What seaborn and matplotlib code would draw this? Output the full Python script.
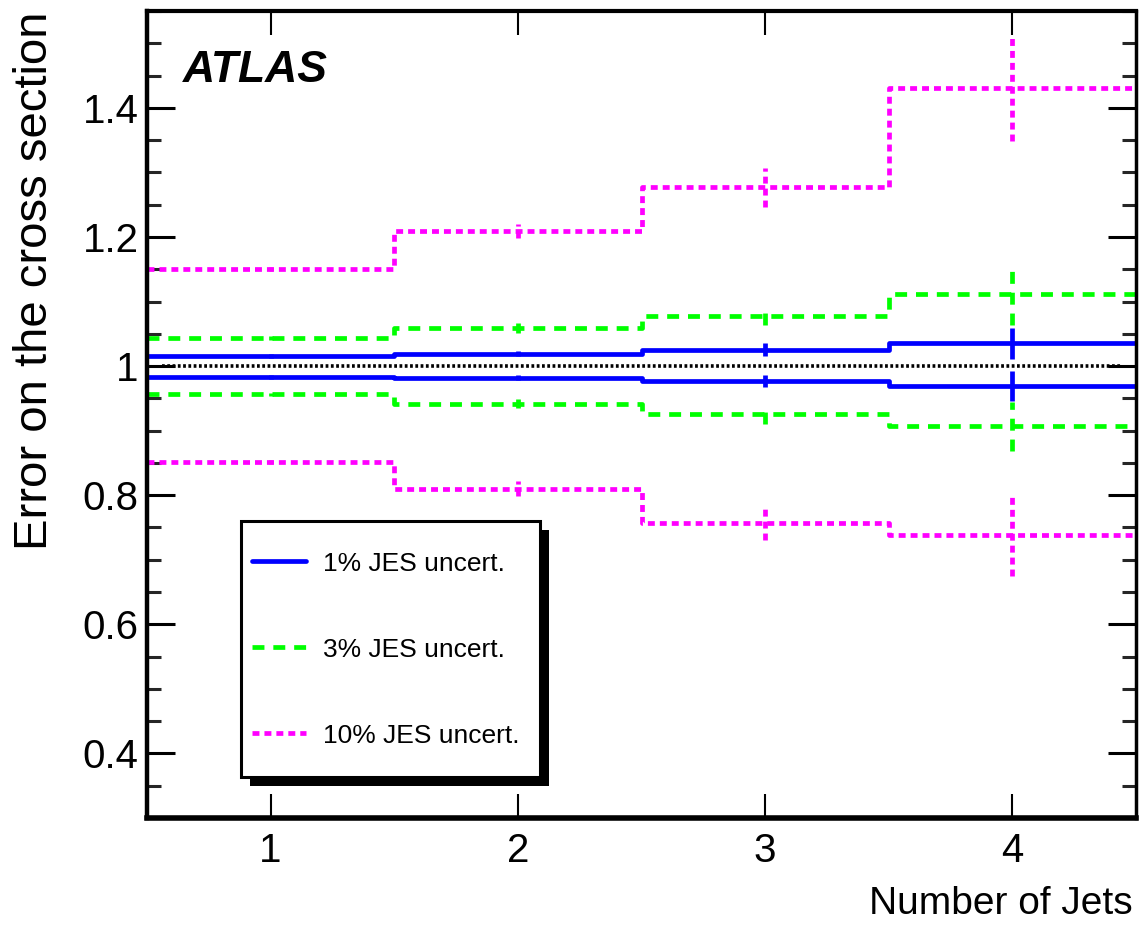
import numpy as np
import pandas as pd
import matplotlib
matplotlib.use("Agg")
import matplotlib.pyplot as plt
from matplotlib.lines import Line2D
from matplotlib.patches import Rectangle
from matplotlib.legend_handler import HandlerLine2D
from matplotlib.ticker import FixedLocator, MultipleLocator, FuncFormatter
import seaborn as sns

# ---- data: relative change of the cross section per jet-multiplicity bin ----
n_jets = [1, 2, 3, 4]
bin_edges = [0.5, 1.5, 2.5, 3.5, 4.5]

jes1_up = [1.015, 1.019, 1.025, 1.035]
jes1_down = [0.983, 0.982, 0.977, 0.969]
jes1_up_err = [0.003, 0.004, 0.010, 0.024]
jes1_down_err = [0.003, 0.004, 0.009, 0.023]

jes3_up = [1.044, 1.059, 1.078, 1.111]
jes3_down = [0.956, 0.942, 0.925, 0.907]
jes3_up_err = [0.003, 0.007, 0.015, 0.048]
jes3_down_err = [0.003, 0.007, 0.015, 0.038]

jes10_up = [1.151, 1.209, 1.277, 1.431]
jes10_down = [0.852, 0.810, 0.757, 0.738]
jes10_up_err = [0.003, 0.011, 0.030, 0.083]
jes10_down_err = [0.003, 0.012, 0.027, 0.063]

legend_labels = ["1% JES uncert.", "3% JES uncert.", "10% JES uncert."]
x_label = "Number of Jets"
y_label = "Error on the cross section"
y_ticks = [0.4, 0.6, 0.8, 1.0, 1.2, 1.4]

sns.set_theme(style="white")
plt.rcParams["lines.scale_dashes"] = False
FONT = ["Liberation Sans", "DejaVu Sans"]
plt.rcParams["font.family"] = FONT
plt.rcParams["text.color"] = "black"
plt.rcParams["axes.labelcolor"] = "black"

fig = plt.figure(figsize=(11.39, 9.25), dpi=100)
ax = fig.add_axes([147 / 1139, 1 - 818 / 925, 989 / 1139, 807 / 925])

styles = [
    dict(color="#0000ff", linewidth=3.4, dashes=None),
    dict(color="#00ff00", linewidth=3.4, dashes=(8.6, 6.4)),
    dict(color="#ff00ff", linewidth=3.4, dashes=(5.0, 3.6)),
]
series = [
    (jes1_up, jes1_down, jes1_up_err, jes1_down_err),
    (jes3_up, jes3_down, jes3_up_err, jes3_down_err),
    (jes10_up, jes10_down, jes10_up_err, jes10_down_err),
]

for (up, down, up_err, down_err), st in zip(series, styles):
    for vals, errs in ((up, up_err), (down, down_err)):
        df = pd.DataFrame({"njets": n_jets, "value": vals})
        kw = dict(color=st["color"], linewidth=st["linewidth"])
        if st["dashes"] is not None:
            kw["dashes"] = st["dashes"]
        # step outline of the per-bin values
        sns.histplot(data=df, x="njets", weights="value", bins=bin_edges,
                     element="step", fill=False, ax=ax, **kw)
        # vertical error bars at the bin centres
        v = np.asarray(vals)
        e = np.asarray(errs)
        ls = "solid" if st["dashes"] is None else (0, st["dashes"])
        ax.vlines(n_jets, v - e, v + e, colors=st["color"],
                  linewidth=st["linewidth"], linestyles=ls)

# reference line at unity
ax.plot([0.56, 4.44], [1.0, 1.0], color="black", linewidth=2.6,
        dashes=(2.0, 1.8), zorder=1)

ax.set_xlim(0.5, 4.5)
ax.set_ylim(0.3, 1.55)

# axes frame and ticks
for side, lw in (("left", 3.2), ("bottom", 4.0), ("top", 3.0), ("right", 2.5)):
    ax.spines[side].set_visible(True)
    ax.spines[side].set_color("black")
    ax.spines[side].set_linewidth(lw)

ax.xaxis.set_major_locator(FixedLocator(n_jets))
ax.yaxis.set_major_locator(FixedLocator(y_ticks))
ax.yaxis.set_minor_locator(MultipleLocator(0.05))
ax.yaxis.set_major_formatter(FuncFormatter(lambda v, p: f"{v:g}"))

ax.tick_params(axis="x", which="major", direction="in", length=17, width=1.5,
               top=True, bottom=True, labelsize=29, pad=10, colors="black")
ax.tick_params(axis="y", which="major", direction="in", length=20, width=2.2,
               left=True, right=True, labelsize=29, pad=6, colors="black")
ax.tick_params(axis="y", which="minor", direction="in", length=10, width=2.2,
               left=True, right=True)

ax.set_xlabel(x_label, fontsize=28, loc="right")
ax.xaxis.set_label_coords(0.997, -0.084)
ax.set_ylabel(y_label, fontsize=34, loc="top")
ax.yaxis.set_label_coords(-0.091, 1.0)

ax.text(0.036, 0.912, "ATLAS", transform=ax.transAxes, fontsize=32,
        fontweight="bold", fontstyle="italic", va="baseline", color="black")


class MidTextLineHandler(HandlerLine2D):
    """Line handle drawn at the vertical middle of the label text."""

    def create_artists(self, legend, orig_handle, xdescent, ydescent,
                       width, height, fontsize, trans):
        artists = super().create_artists(legend, orig_handle, xdescent, ydescent,
                                         width, height, fontsize, trans)
        for a in artists:
            y = np.asarray(a.get_ydata(), dtype=float)
            a.set_ydata(np.full_like(y, 0.36 * fontsize))
        return artists


handles = []
for st in styles:
    extra = {} if st["dashes"] is None else {"dashes": st["dashes"]}
    handles.append(Line2D([], [], color=st["color"], linewidth=st["linewidth"], **extra))

leg = ax.legend(handles, legend_labels, loc="upper left",
                bbox_to_anchor=(0.095, 0.368, 0.302, 0.0), mode="expand",
                borderaxespad=0, prop={"size": 19},
                handler_map={Line2D: MidTextLineHandler()},
                handlelength=2.05, handleheight=3.24, handletextpad=0.64,
                borderpad=0.417, labelspacing=0.91, frameon=True,
                fancybox=False, framealpha=1, facecolor="white",
                edgecolor="black")
leg.get_frame().set_linewidth(2.2)
for t in leg.get_texts():
    t.set_color("black")

# drop shadow behind the legend box
fig.canvas.draw()
bb = leg.get_window_extent()
inv = ax.transAxes.inverted()
(sx0, sy0) = inv.transform((bb.x0 + 9, bb.y0 - 9))
(sx1, sy1) = inv.transform((bb.x1 + 9, bb.y1 - 9))
ax.add_patch(Rectangle((sx0, sy0), sx1 - sx0, sy1 - sy0, transform=ax.transAxes,
                       facecolor="black", edgecolor="none",
                       zorder=leg.get_zorder() - 0.1, clip_on=False))

fig.savefig("out.png", dpi=100, facecolor="white")
